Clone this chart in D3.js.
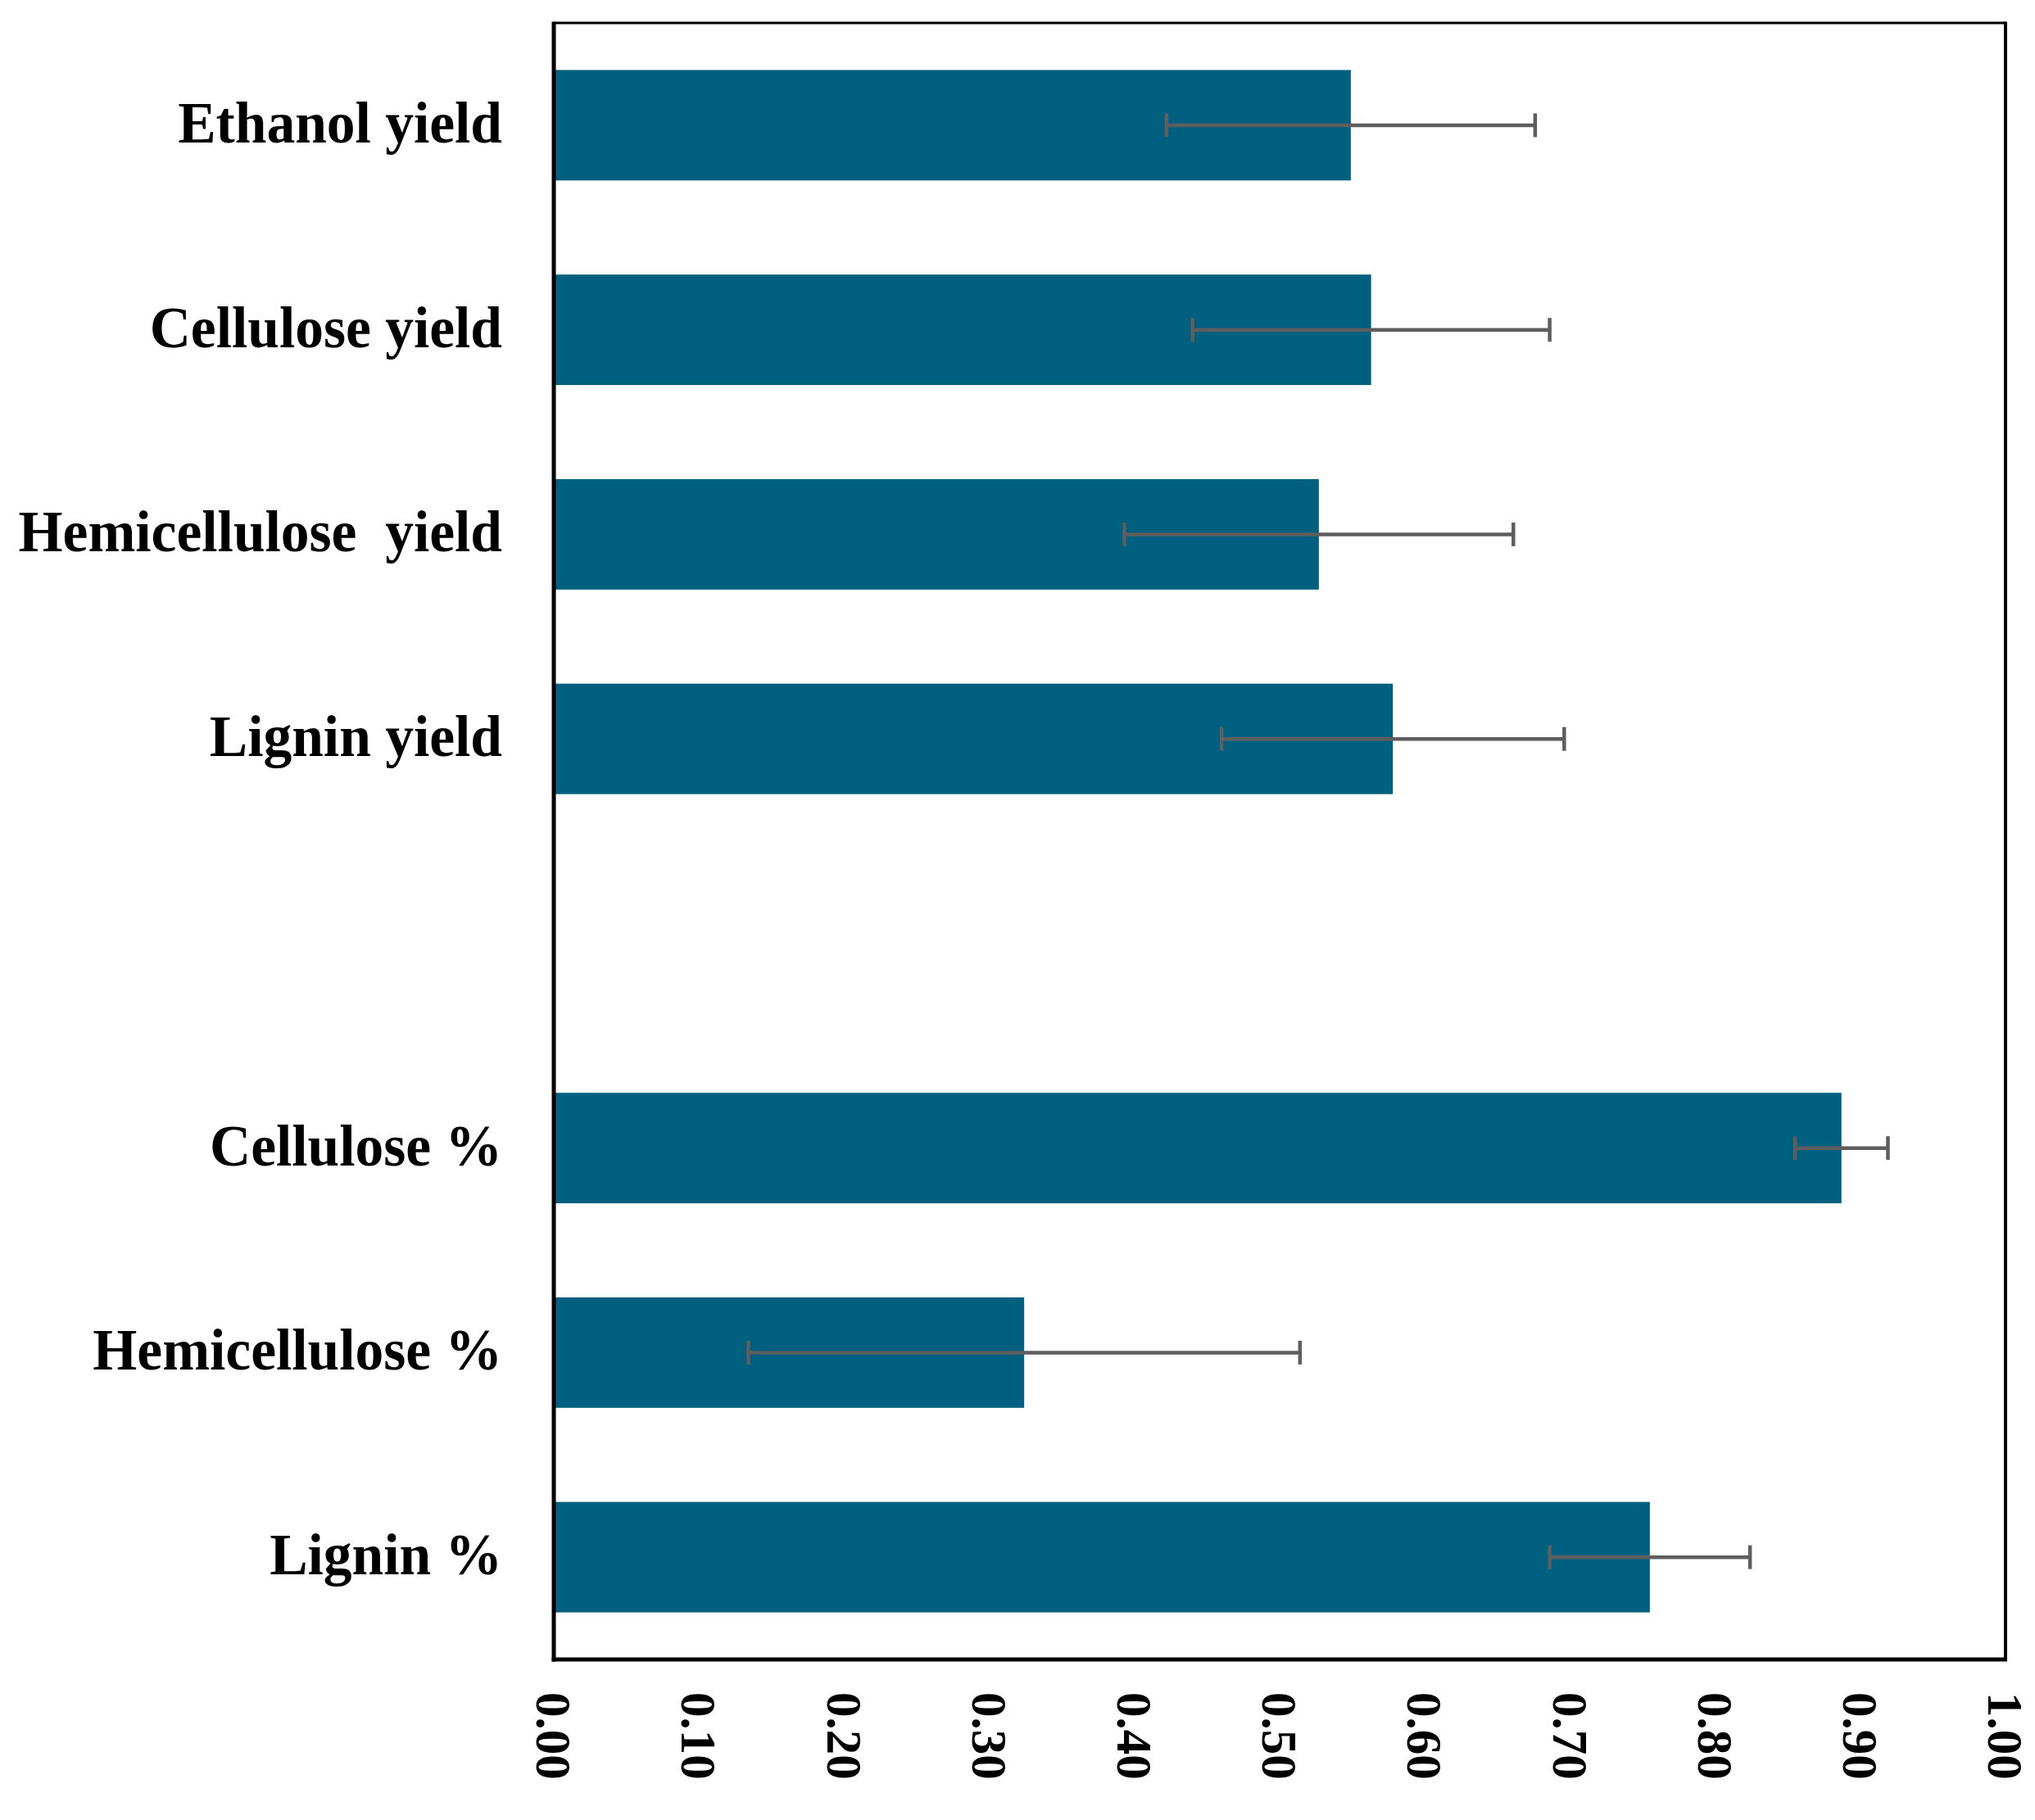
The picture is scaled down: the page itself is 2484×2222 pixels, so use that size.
<!DOCTYPE html>
<html>
<head>
<meta charset="utf-8">
<script src="https://cdn.jsdelivr.net/npm/d3@7"></script>
<style>
  html, body { margin: 0; padding: 0; background: #ffffff; }
  svg { display: block; }
  text { font-family: "Liberation Serif", "Times New Roman", serif; font-weight: bold; fill: #000; }
</style>
</head>
<body>
<svg id="chart" width="2484" height="2222"></svg>
<script>
// ---- data ----
const categories = ["Ethanol yield", "Cellulose yield", "Hemicellulose  yield", "Lignin yield", "", "Cellulose %", "Hemicellulose %", "Lignin %"];
const values = [0.549, 0.563, 0.527, 0.578, null, 0.887, 0.324, 0.755];
const errors = [0.127, 0.123, 0.134, 0.118, null, 0.032, 0.190, 0.069];
const xTicks = [0.0, 0.1, 0.2, 0.3, 0.4, 0.5, 0.6, 0.7, 0.8, 0.9, 1.0];

// ---- layout ----
const W = 2484, H = 2222;
const plot = { left: 676, right: 2448, top: 28, bottom: 2026 };
const barColor = "#01607f";
const errColor = "#5e5e5e";
const labelSqueeze = 0.965;

const svg = d3.select("#chart");
svg.append("rect").attr("width", W).attr("height", H).attr("fill", "#fff");

const x = d3.scaleLinear().domain([0, 1]).range([plot.left, plot.right]);
const y = d3.scaleBand().domain(categories).range([plot.top, plot.bottom])
  .paddingInner(0.46).paddingOuter(0.23);

const rows = categories.map((c, i) => ({ c, v: values[i], e: errors[i] })).filter(d => d.v !== null);

// bars
svg.append("g").selectAll("rect").data(rows).join("rect")
  .attr("x", x(0))
  .attr("y", d => y(d.c))
  .attr("width", d => x(d.v) - x(0))
  .attr("height", y.bandwidth())
  .attr("fill", barColor);

// error bars
const eg = svg.append("g").attr("stroke", errColor).attr("stroke-width", 4.5).attr("fill", "none");
const capH = 14.5;
rows.forEach(d => {
  const cy = y(d.c) + y.bandwidth() / 2;
  eg.append("line").attr("x1", x(d.v - d.e)).attr("x2", x(d.v + d.e)).attr("y1", cy).attr("y2", cy);
  eg.append("line").attr("x1", x(d.v - d.e)).attr("x2", x(d.v - d.e)).attr("y1", cy - capH).attr("y2", cy + capH);
  eg.append("line").attr("x1", x(d.v + d.e)).attr("x2", x(d.v + d.e)).attr("y1", cy - capH).attr("y2", cy + capH);
});

// y axis labels
const yAxis = d3.axisLeft(y).tickSize(0).tickPadding(63);
const gy = svg.append("g").attr("transform", `translate(${plot.left},0)`).call(yAxis);
gy.select(".domain").remove();
gy.selectAll("text")
  .attr("font-size", 72)
  .style("font-family", '"Liberation Serif", "Times New Roman", serif')
  .style("font-weight", "bold")
  .style("white-space", "pre")
  .attr("fill", "#000")
  .attr("x", -63 / labelSqueeze)
  .attr("transform", `scale(${labelSqueeze},1)`)
  .attr("dy", "0.29em");

// x axis labels (rotated)
const xAxis = d3.axisBottom(x).tickValues(xTicks).tickSize(0).tickFormat(d3.format(".2f"));
const gx = svg.append("g").attr("transform", `translate(0,${plot.bottom})`).call(xAxis);
gx.select(".domain").remove();
gx.selectAll("text")
  .attr("font-size", 61)
  .style("font-family", '"Liberation Serif", "Times New Roman", serif')
  .style("font-weight", "bold")
  .attr("fill", "#000")
  .attr("transform", "rotate(90)")
  .attr("text-anchor", "start")
  .attr("x", 40)
  .attr("y", 0)
  .attr("dy", "0.35em");

// frame
const frame = svg.append("g").attr("stroke", "#000").attr("fill", "none");
frame.append("line").attr("x1", plot.left).attr("x2", plot.right).attr("y1", plot.top).attr("y2", plot.top).attr("stroke-width", 3);
frame.append("line").attr("x1", plot.right).attr("x2", plot.right).attr("y1", plot.top - 1.5).attr("y2", plot.bottom + 2).attr("stroke-width", 4);
frame.append("line").attr("x1", plot.left).attr("x2", plot.left).attr("y1", plot.top - 1.5).attr("y2", plot.bottom + 2.5).attr("stroke-width", 5);
frame.append("line").attr("x1", plot.left - 2.5).attr("x2", plot.right + 2).attr("y1", plot.bottom).attr("y2", plot.bottom).attr("stroke-width", 5);
</script>
</body>
</html>
